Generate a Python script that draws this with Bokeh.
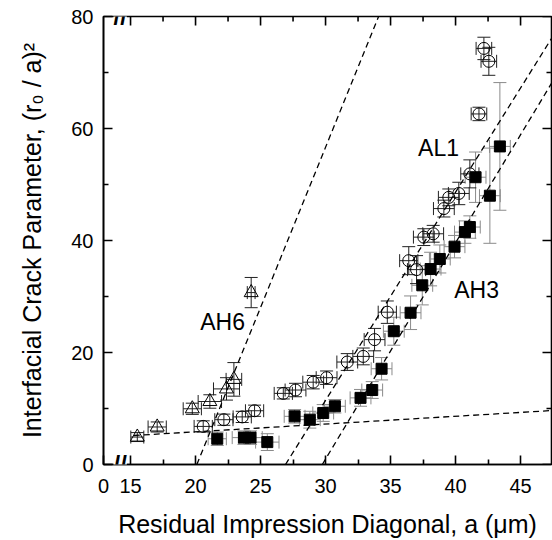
from bokeh.plotting import figure
from bokeh.models import ColumnDataSource, Whisker, TeeHead, FixedTicker, Label, Range1d
from bokeh.embed import file_html
from bokeh.resources import INLINE

# ---- data ----
# AH6 (open triangles)
ah6_x = [15.52, 17.05, 19.75, 21.1, 22.38, 22.95, 24.28]
ah6_y = [4.9, 6.7, 9.95, 11.25, 13.5, 15.2, 30.7]
ah6_yerr = [0.8, 0.9, 1.0, 1.2, 2.0, 3.0, 2.7]
ah6_xerr = [0.5, 0.7, 0.7, 0.9, 1.0, 0.6, 0.3]

# AL1 (open circles)
al1_x = [20.59, 22.18, 23.59, 24.54, 26.75, 27.69, 29.05, 30.08, 31.67, 32.9, 33.77, 34.75,
         36.4, 37.0, 37.56, 38.28, 39.1, 39.48, 40.25, 41.1, 41.8, 42.18, 42.56]
al1_y = [6.8, 8.0, 8.5, 9.6, 12.7, 13.3, 14.7, 15.5, 18.3, 19.3, 22.3, 27.2,
         36.4, 34.8, 40.6, 41.2, 45.7, 47.7, 48.4, 51.9, 62.6, 74.3, 72.0]
al1_yerr = [1.0, 1.0, 1.0, 1.0, 1.0, 1.2, 1.2, 1.2, 1.5, 1.5, 2.0, 2.0,
            2.5, 2.5, 1.5, 1.5, 1.5, 1.5, 2.0, 2.5, 1.2, 2.0, 2.5]
al1_xerr = [0.7, 0.7, 0.7, 0.7, 0.7, 0.8, 0.8, 0.8, 0.8, 0.8, 0.8, 0.7,
            0.7, 0.7, 0.8, 0.8, 0.8, 0.8, 0.8, 0.7, 0.6, 0.6, 0.6]

# AH3 (filled squares)
ah3_x = [21.67, 23.72, 24.23, 25.52, 27.62, 28.79, 29.82, 30.72, 32.69, 33.59, 34.31,
         35.25, 36.54, 37.44, 38.08, 38.79, 39.92, 40.72, 41.1, 41.54, 42.64, 43.41]
ah3_y = [4.6, 4.8, 4.8, 4.0, 8.6, 8.0, 9.2, 10.4, 11.9, 13.3, 17.1,
         23.8, 27.1, 32.0, 34.9, 36.7, 38.9, 41.5, 42.4, 51.3, 48.0, 56.8]
ah3_yerr = [1.2, 1.2, 1.2, 1.5, 1.2, 1.5, 1.5, 1.2, 1.5, 1.5, 2.0,
            2.5, 3.0, 3.5, 3.0, 2.5, 2.0, 2.0, 2.0, 4.5, 8.5, 11.4]
ah3_xerr = [0.7, 0.9, 0.9, 0.9, 0.8, 0.8, 0.8, 0.8, 0.8, 0.8, 0.8,
            0.8, 0.8, 0.8, 0.8, 0.8, 0.8, 0.8, 0.8, 0.8, 0.8, 0.8]

# dashed fit lines (end points)
fit_ah6_x = [20.1, 34.08]
fit_ah6_y = [0.0, 80.0]
fit_al1_x = [26.92, 47.44]
fit_al1_y = [0.0, 76.3]
fit_ah3_x = [29.75, 47.44]
fit_ah3_y = [0.0, 68.3]
fit_low_x = [15.25, 47.44]
fit_low_y = [5.18, 9.64]

x_ticks = [15, 20, 25, 30, 35, 40, 45]
x_minor = [17.5, 22.5, 27.5, 32.5, 37.5, 42.5]
y_ticks = [0, 20, 40, 60, 80]
y_minor = [10, 30, 50, 70]

X0 = 12.92   # left edge of the broken axis, labelled "0"
X1 = 47.38
Y0, Y1 = 0, 80
FONT = "Liberation Sans"

W, H = 552, 540
BL, BR, BT, BB = 103, 1, 16, 76
p = figure(width=W, height=H, x_range=Range1d(X0, X1), y_range=Range1d(Y0, Y1),
           output_backend="svg", toolbar_location=None,
           min_border_left=BL, min_border_right=BR, min_border_top=BT, min_border_bottom=BB)
p.xgrid.visible = False
p.ygrid.visible = False
p.outline_line_color = "black"
p.outline_line_width = 1.6
p.background_fill_color = "white"

for ax in (p.xaxis[0], p.yaxis[0]):
    ax.axis_line_width = 1.6
    ax.axis_line_color = "black"
    ax.major_tick_line_width = 1.6
    ax.minor_tick_line_width = 1.6
    ax.major_tick_in = 9
    ax.major_tick_out = 0
    ax.minor_tick_in = 5
    ax.minor_tick_out = 0
    ax.major_label_text_font = FONT
    ax.major_label_text_font_size = "20px"
    ax.major_label_text_color = "black"
    ax.axis_label_text_font = FONT
    ax.axis_label_text_font_size = "25px"
    ax.axis_label_text_font_style = "normal"
    ax.axis_label_text_color = "black"

p.xaxis.ticker = FixedTicker(ticks=[X0] + x_ticks, minor_ticks=x_minor)
p.yaxis.ticker = FixedTicker(ticks=y_ticks, minor_ticks=y_minor)
p.xaxis.major_label_overrides = {X0: "0"}
p.xaxis.major_label_standoff = 14
p.yaxis.major_label_standoff = 10
p.xaxis.axis_label = "Residual Impression Diagonal, a (\u03bcm)"
p.yaxis.axis_label = "Interfacial Crack Parameter, (r\u2080 / a)\u00b2"
p.xaxis.axis_label_standoff = 14
p.yaxis.axis_label_standoff = 22

# inward ticks on the top and right frame edges (mirroring the axes)
fw = W - BL - BR
fh = H - BT - BB
dx_px = (X1 - X0) / fw
dy_px = (Y1 - Y0) / fh
p.segment(x0=x_ticks, y0=[Y1] * len(x_ticks), x1=x_ticks, y1=[Y1 - 9 * dy_px] * len(x_ticks),
          line_color="black", line_width=1.6)
p.segment(x0=x_minor, y0=[Y1] * len(x_minor), x1=x_minor, y1=[Y1 - 5 * dy_px] * len(x_minor),
          line_color="black", line_width=1.6)
p.segment(x0=[X1] * len(y_ticks), y0=y_ticks, x1=[X1 - 9 * dx_px] * len(y_ticks), y1=y_ticks,
          line_color="black", line_width=1.6)
p.segment(x0=[X1] * len(y_minor), y0=y_minor, x1=[X1 - 5 * dx_px] * len(y_minor), y1=y_minor,
          line_color="black", line_width=1.6)

# dashed fit lines
for fx, fy in [(fit_ah6_x, fit_ah6_y), (fit_al1_x, fit_al1_y), (fit_ah3_x, fit_ah3_y), (fit_low_x, fit_low_y)]:
    p.line(fx, fy, line_color="black", line_width=1.3, line_dash="6 4")


def add_errors(xs, ys, xe, ye, color):
    src = ColumnDataSource(dict(
        x=xs, y=ys,
        yl=[a - b for a, b in zip(ys, ye)], yu=[a + b for a, b in zip(ys, ye)],
        xl=[a - b for a, b in zip(xs, xe)], xu=[a + b for a, b in zip(xs, xe)]))
    wy = Whisker(source=src, base="x", lower="yl", upper="yu", dimension="height",
                 line_color=color, line_width=1,
                 upper_head=TeeHead(size=13, line_color=color, line_width=1),
                 lower_head=TeeHead(size=13, line_color=color, line_width=1))
    wx = Whisker(source=src, base="y", lower="xl", upper="xu", dimension="width",
                 line_color=color, line_width=1,
                 upper_head=TeeHead(size=13, line_color=color, line_width=1),
                 lower_head=TeeHead(size=13, line_color=color, line_width=1))
    p.add_layout(wy)
    p.add_layout(wx)


add_errors(ah3_x, ah3_y, ah3_xerr, ah3_yerr, "#8a8a8a")
add_errors(al1_x, al1_y, al1_xerr, al1_yerr, "#222222")
add_errors(ah6_x, ah6_y, ah6_xerr, ah6_yerr, "#222222")

p.scatter(ah3_x, ah3_y, marker="square", size=11, fill_color="black", line_color="black")
p.scatter(al1_x, al1_y, marker="circle", size=12, fill_color="white", fill_alpha=0.0,
          line_color="black", line_width=1)
p.scatter(ah6_x, ah6_y, marker="triangle", size=14, fill_color="white", fill_alpha=0.0,
          line_color="black", line_width=1)

for txt, lx, ly in [("AH6", 22.08, 25.4), ("AL1", 38.69, 56.6), ("AH3", 41.62, 31.1)]:
    p.add_layout(Label(x=lx, y=ly, text=txt, text_font=FONT, text_font_size="23px",
                       text_align="center", text_baseline="middle", text_color="black"))

# axis break marks
for by in [Y0, Y1]:
    p.add_layout(Label(x=14.2, y=by, text="//", text_font=FONT, text_font_size="24px",
                       text_font_style="bold",
                       text_align="center", text_baseline="middle", text_color="black",
                       background_fill_color="white", padding=0))

open("out.html", "w").write(file_html(p, INLINE))
